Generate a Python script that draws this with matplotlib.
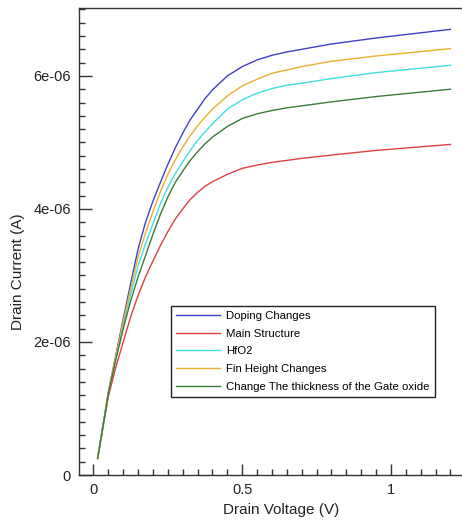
import matplotlib
matplotlib.use("Agg")
import matplotlib.pyplot as plt
from matplotlib.ticker import MultipleLocator, FixedLocator

plt.rcParams['font.family'] = ['Liberation Sans', 'DejaVu Sans']

# drain voltage (V)
vd = [0.014, 0.05, 0.075, 0.1, 0.125, 0.15, 0.175, 0.2, 0.225, 0.25, 0.275,
      0.3, 0.325, 0.35, 0.375, 0.4, 0.45, 0.5, 0.55, 0.6, 0.65, 0.7, 0.8,
      0.95, 1.2]

# drain current in uA
doping = [0.25, 1.25, 1.80, 2.35, 2.88, 3.40, 3.80, 4.12, 4.40, 4.67, 4.92,
          5.14, 5.34, 5.50, 5.66, 5.79, 6.00, 6.14, 6.24, 6.31, 6.36, 6.40,
          6.48, 6.57, 6.70]
main = [0.25, 1.18, 1.62, 2.00, 2.38, 2.70, 2.98, 3.22, 3.45, 3.66, 3.85,
        4.00, 4.14, 4.25, 4.34, 4.41, 4.52, 4.61, 4.66, 4.70, 4.73, 4.76,
        4.81, 4.88, 4.97]
hfo2 = [0.25, 1.23, 1.76, 2.26, 2.72, 3.15, 3.48, 3.78, 4.08, 4.33, 4.53,
        4.71, 4.88, 5.03, 5.16, 5.28, 5.50, 5.64, 5.74, 5.81, 5.86, 5.89,
        5.96, 6.05, 6.16]
fin = [0.25, 1.24, 1.78, 2.31, 2.80, 3.28, 3.64, 3.96, 4.26, 4.52, 4.74,
       4.93, 5.10, 5.25, 5.38, 5.50, 5.70, 5.85, 5.95, 6.04, 6.09, 6.14,
       6.22, 6.30, 6.41]
oxide = [0.25, 1.22, 1.73, 2.20, 2.62, 2.98, 3.30, 3.62, 3.92, 4.18, 4.40,
         4.57, 4.73, 4.86, 4.98, 5.08, 5.24, 5.36, 5.43, 5.48, 5.52, 5.55,
         5.61, 5.69, 5.80]

labels = ["Doping Changes", "Main Structure", "HfO2", "Fin Height Changes",
          "Change The thickness of the Gate oxide"]
colors = ["#4040c8", "#e04040", "#40e0e0", "#e8b030", "#3a7a3a"]
series = [doping, main, hfo2, fin, oxide]

yticks = [0, 2e-06, 4e-06, 6e-06]
yticklabels = ["0", "2e-06", "4e-06", "6e-06"]
xticks = [0, 0.5, 1]
xticklabels = ["0", "0.5", "1"]

fig = plt.figure(figsize=(4.62, 5.2), dpi=100)
ax = fig.add_axes([0.171, 0.0865, 0.829, 0.898])

for ys, lab, col in zip(series, labels, colors):
    ax.plot(vd, [v * 1e-6 for v in ys], color=col, lw=1.0, label=lab)

ax.set_xlim(-0.0487, 1.2387)
ax.set_ylim(0, 7.02e-06)

ax.xaxis.set_major_locator(FixedLocator(xticks))
ax.set_xticklabels(xticklabels)
ax.xaxis.set_minor_locator(MultipleLocator(0.05))
ax.yaxis.set_major_locator(FixedLocator(yticks))
ax.set_yticklabels(yticklabels)
ax.yaxis.set_minor_locator(MultipleLocator(2e-07))

ax.tick_params(which='both', direction='in', colors='#333333', labelcolor='#222222',
               top=False, right=False, labelsize=10.5)
ax.tick_params(axis='y', which='major', length=9, width=1, pad=6)
ax.tick_params(axis='y', which='minor', length=4.5, width=1)
ax.tick_params(axis='x', which='major', length=8, width=1, pad=6)
ax.tick_params(axis='x', which='minor', length=4, width=1)

ax.spines['right'].set_visible(False)
for s in ['left', 'top', 'bottom']:
    ax.spines[s].set_color('#333333')
    ax.spines[s].set_linewidth(1.0)

ax.set_xlabel("Drain Voltage (V)", fontsize=11, color='#222222')
ax.set_ylabel("Drain Current (A)", fontsize=11, color='#222222')
ax.xaxis.set_label_coords(0.527, -0.06)
ax.yaxis.set_label_coords(-0.14, 0.435)

leg = ax.legend(loc='upper left', bbox_to_anchor=(0.240, 0.3625), borderaxespad=0,
                fontsize=8.2, fancybox=False, edgecolor='#222222', framealpha=1,
                handlelength=3.9, handletextpad=0.5, labelspacing=0.68,
                borderpad=0.45)
leg.get_frame().set_linewidth(1.0)

fig.savefig("out.png", dpi=100)
